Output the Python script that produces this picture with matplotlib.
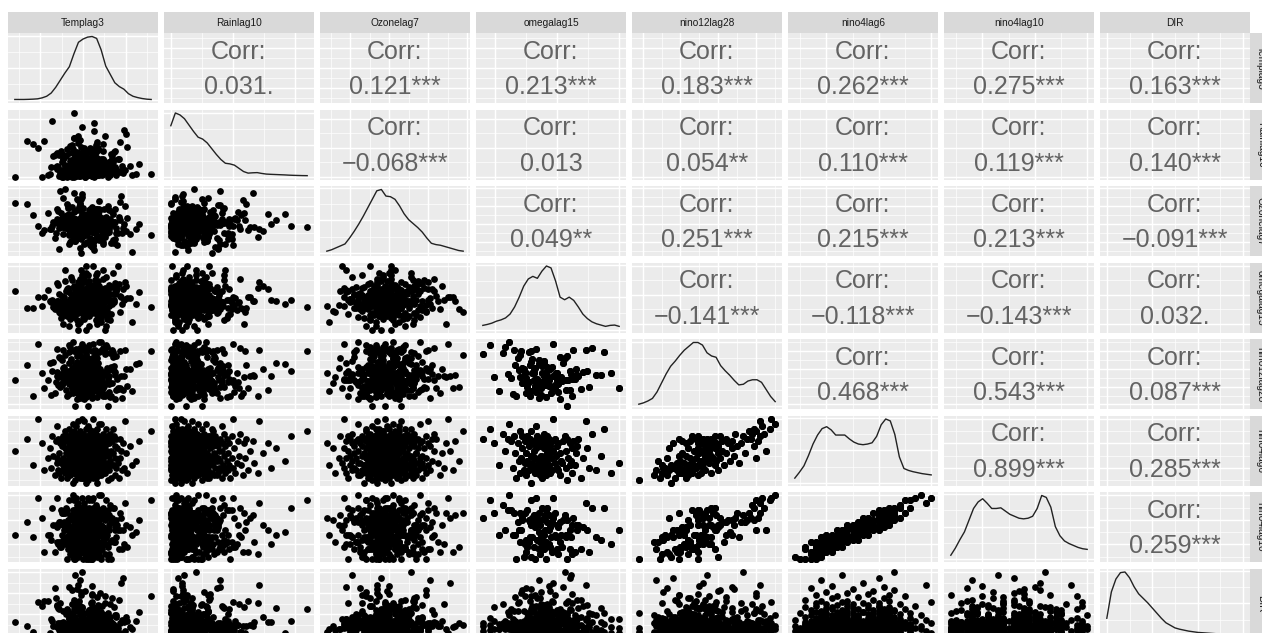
"""
ggpairs-style scatterplot matrix: lagged climate variables vs DIR
"""

import numpy as np
import matplotlib
matplotlib.use('Agg')
import matplotlib.pyplot as plt
from matplotlib.ticker import MaxNLocator

plt.rcParams['font.family'] = ['Liberation Sans', 'DejaVu Sans']

var_names = ['Templag3', 'Rainlag10', 'Ozonelag7', 'omegalag15',
             'nino12lag28', 'nino4lag6', 'nino4lag10', 'DIR']

# upper triangle, row by row
corr_values = [0.031, 0.121, 0.213, 0.183, 0.262, 0.275, 0.163,
               -0.068, 0.013, 0.054, 0.110, 0.119, 0.140,
               0.049, 0.251, 0.215, 0.213, -0.091,
               -0.141, -0.118, -0.143, 0.032,
               0.468, 0.543, 0.087,
               0.899, 0.285,
               0.259]
corr_stars = ['.', '***', '***', '***', '***', '***', '***',
              '***', '', '**', '***', '***', '***',
              '**', '***', '***', '***', '***',
              '***', '***', '***', '.',
              '***', '***', '***',
              '***', '***',
              '***']

# monthly-type values, one per period (each period covers 3 days)
days_per_period = 3
nino4lag6_period = [
    27.4, 27.5, 27.6, 27.6, 27.6, 27.7, 27.7, 27.7, 27.7, 27.8,
    27.8, 27.8, 27.8, 27.8, 27.8, 27.9, 27.9, 27.9, 27.9, 27.9,
    27.9, 27.9, 28.0, 28.0, 28.0, 28.0, 28.0, 28.0, 28.0, 28.1,
    28.1, 28.1, 28.1, 28.1, 28.1, 28.1, 28.2, 28.2, 28.2, 28.2,
    28.2, 28.2, 28.3, 28.3, 28.3, 28.3, 28.3, 28.3, 28.4, 28.4,
    28.4, 28.4, 28.4, 28.4, 28.5, 28.5, 28.5, 28.5, 28.5, 28.6,
    28.6, 28.6, 28.6, 28.6, 28.7, 28.7, 28.7, 28.7, 28.7, 28.8,
    28.8, 28.8, 28.8, 28.8, 28.9, 28.9, 28.9, 28.9, 28.9, 29.0,
    29.0, 29.0, 29.0, 29.0, 29.0, 29.0, 29.0, 29.1, 29.1, 29.1,
    29.1, 29.1, 29.1, 29.1, 29.1, 29.2, 29.2, 29.2, 29.2, 29.2,
    29.2, 29.2, 29.2, 29.3, 29.3, 29.3, 29.3, 29.3, 29.3, 29.4,
    29.4, 29.4, 29.5, 29.5, 29.6, 29.6, 29.7, 29.8, 29.9, 30.0]
nino4lag10_period = [
    27.5, 27.4, 27.9, 27.4, 27.8, 27.4, 27.7, 28.1, 27.6, 28.0,
    27.4, 27.9, 27.6, 28.1, 27.8, 27.6, 28.1, 27.8, 28.3, 27.7,
    28.0, 27.5, 28.3, 27.9, 28.2, 27.7, 28.0, 28.4, 27.8, 28.2,
    27.8, 28.3, 28.0, 28.4, 27.7, 28.1, 28.4, 28.0, 28.6, 28.1,
    28.3, 27.9, 28.6, 28.1, 28.3, 28.5, 27.9, 28.4, 28.3, 28.7,
    28.1, 28.6, 28.4, 28.8, 28.3, 28.6, 28.2, 28.8, 28.4, 28.8,
    28.2, 28.6, 28.9, 28.4, 28.8, 28.4, 29.1, 28.6, 28.9, 28.6,
    29.1, 28.8, 28.4, 29.0, 28.8, 29.3, 28.6, 29.0, 28.7, 29.3,
    29.0, 28.7, 29.2, 28.9, 29.4, 28.6, 29.1, 28.9, 29.4, 29.1,
    28.8, 29.3, 29.0, 29.2, 28.7, 29.4, 29.0, 29.2, 28.9, 29.3,
    29.1, 29.5, 28.8, 29.4, 29.1, 29.5, 29.2, 29.0, 29.3, 29.6,
    29.1, 29.5, 29.8, 29.3, 29.8, 29.5, 29.9, 30.0, 29.7, 29.9]
nino12lag28_period = [
    21.5, 19.8, 22.3, 20.9, 21.7, 22.9, 21.3, 20.6, 22.4, 23.6,
    21.9, 22.1, 21.0, 23.1, 22.6, 21.4, 22.5, 20.7, 23.3, 21.8,
    22.2, 24.0, 21.6, 22.8, 21.1, 22.0, 23.2, 21.2, 22.7, 22.4,
    23.8, 21.0, 23.0, 21.5, 22.9, 24.3, 22.2, 23.5, 21.8, 23.2,
    25.1, 22.6, 23.9, 20.8, 23.4, 24.6, 22.0, 23.1, 21.3, 23.7,
    22.5, 26.0, 22.8, 24.1, 23.6, 22.3, 23.3, 24.8, 21.9, 24.0,
    23.0, 22.1, 25.4, 24.4, 23.5, 22.7, 23.2, 26.5, 24.2, 23.8,
    21.4, 22.9, 24.7, 22.4, 23.6, 25.0, 23.3, 25.9, 24.0, 23.1,
    24.5, 22.3, 23.9, 25.2, 22.9, 21.6, 23.5, 24.2, 23.0, 26.1,
    22.5, 23.7, 24.7, 23.3, 22.1, 23.4, 25.5, 22.8, 24.4, 21.9,
    25.7, 23.6, 23.2, 22.6, 24.1, 23.8, 25.3, 22.9, 26.2, 25.8,
    24.9, 26.4, 26.0, 25.6, 26.7, 25.9, 26.3, 27.0, 26.2, 26.8]
omegalag15_period = [
    -0.021, 0.008, -0.012, -0.033, 0.019, -0.009, -0.025, 0.002, -0.014, 0.043,
    -0.018, -0.006, 0.012, -0.030, -0.011, 0.001, -0.023, -0.015, 0.031, -0.004,
    -0.010, -0.027, 0.007, -0.019, -0.013, 0.026, -0.008, -0.036, 0.000, -0.016,
    0.010, -0.022, -0.007, -0.047, 0.014, -0.012, -0.002, -0.026, 0.050, -0.011,
    -0.020, 0.004, -0.031, -0.009, 0.011, -0.015, -0.024, 0.003, -0.005, 0.021,
    -0.014, -0.029, 0.009, -0.018, -0.001, -0.010, 0.035, -0.021, -0.013, 0.015,
    -0.025, -0.007, 0.002, -0.034, -0.019, 0.007, -0.003, -0.042, -0.008, 0.024,
    -0.017, 0.012, -0.011, -0.028, 0.000, -0.015, 0.016, -0.023, -0.006, -0.051,
    -0.013, 0.001, -0.019, -0.032, -0.009, 0.010, -0.020, -0.004, -0.037, 0.013,
    -0.014, -0.026, 0.005, -0.010, -0.018, -0.040, 0.008, -0.007, -0.022, -0.002,
    -0.060, -0.012, 0.017, -0.024, -0.028, -0.008, 0.006, -0.016, -0.035, -0.044,
    -0.011, 0.028, -0.021, -0.030, -0.054, 0.038, -0.017, -0.039, 0.023, -0.003]

# daily values
templag3 = [
    25.3, 23.8, 26.7, 24.1, 27.9, 25.6, 22.4, 26.2, 24.9, 28.3, 25.0, 23.1, 26.5, 24.6, 29.2, 25.8, 27.1, 26.0, 21.7, 24.4,
    26.9, 24.3, 25.1, 28.7, 23.5, 26.4, 25.7, 22.9, 27.4, 24.8, 25.4, 26.1, 23.9, 30.2, 24.0, 26.6, 25.9, 27.6, 24.5, 22.2,
    24.7, 26.3, 23.3, 25.5, 27.2, 25.2, 28.1, 24.2, 26.8, 22.6, 25.9, 29.6, 24.6, 26.0, 23.6, 27.7, 25.1, 20.4, 26.5, 24.9,
    25.6, 22.1, 26.2, 24.4, 27.0, 25.3, 23.0, 28.9, 26.7, 24.1, 25.8, 26.9, 21.3, 24.8, 27.5, 25.0, 23.7, 26.4, 29.8, 24.3,
    26.1, 25.4, 23.4, 27.8, 24.0, 26.6, 25.7, 22.7, 28.4, 24.5, 25.2, 26.3, 23.2, 27.3, 24.9, 19.1, 26.0, 25.5, 24.2, 30.7,
    24.6, 27.1, 25.9, 23.9, 26.8, 24.3, 28.6, 25.1, 22.5, 26.5, 25.6, 24.7, 27.6, 23.5, 26.2, 29.1, 25.3, 21.9, 24.0, 26.9,
    25.0, 23.6, 26.4, 24.8, 27.9, 25.8, 22.8, 26.1, 24.4, 28.2, 25.4, 26.7, 23.1, 27.4, 24.1, 25.7, 31.2, 26.3, 24.9, 22.3,
    26.6, 24.2, 25.2, 27.2, 23.8, 26.0, 25.5, 28.8, 24.7, 22.0, 25.9, 26.8, 23.4, 27.0, 24.5, 29.4, 25.1, 26.4, 20.9, 24.6,
    25.7, 22.6, 26.3, 24.0, 27.7, 25.3, 23.3, 28.0, 26.5, 24.9, 25.6, 26.2, 21.5, 24.3, 27.3, 25.0, 23.7, 26.9, 30.1, 24.8,
    26.0, 25.8, 23.0, 27.5, 24.4, 26.7, 25.4, 22.2, 28.5, 24.1, 25.2, 26.6, 23.9, 27.1, 24.6, 17.0, 26.1, 25.9, 24.7, 29.5,
    24.5, 27.8, 25.1, 23.5, 26.4, 24.2, 28.3, 25.7, 22.9, 26.8, 25.3, 24.8, 27.2, 23.2, 26.0, 29.0, 25.5, 21.1, 24.9, 26.3,
    25.9, 23.7, 26.5, 24.3, 27.0, 25.0, 22.5, 26.2, 24.0, 28.7, 25.6, 26.9, 23.3, 27.6, 24.7, 25.2, 30.5, 26.6, 24.4, 22.7,
    26.2, 24.6, 25.4, 27.4, 23.6, 26.1, 25.8, 28.1, 24.5, 22.3, 25.1, 26.7, 23.8, 27.9, 24.1, 29.7, 25.5, 26.3, 20.2, 24.8,
    25.2, 22.8, 26.0, 24.9, 27.1, 25.7, 23.1, 28.4, 26.4, 24.2, 25.9, 26.5, 21.8, 24.6, 27.5, 25.3, 23.4, 26.8, 31.6, 24.0,
    26.3, 25.6, 23.9, 27.3, 24.7, 26.9, 25.0, 22.4, 28.9, 24.3, 25.4, 26.1, 23.5, 27.0, 24.5, 18.4, 26.6, 25.8, 24.8, 29.3,
    24.4, 27.6, 25.3, 23.0, 26.2, 24.8, 28.0, 25.9, 22.1, 26.7, 25.1, 24.1, 27.8, 23.7, 26.4, 28.6, 25.7, 21.4, 24.9, 26.0,
    25.5, 23.2, 26.8, 24.5, 27.2, 25.2, 22.6, 26.5, 24.3, 28.2, 25.8, 26.3, 23.6, 27.4, 24.6, 25.0, 33.0, 26.1, 24.0, 22.9,
    26.4, 24.7, 25.7, 27.7, 23.3, 26.6, 25.3, 28.5, 24.2, 22.0, 25.6, 26.9, 23.8, 27.1, 24.4, 29.9, 25.1, 26.2, 19.7, 24.9]
rainlag10 = [
    3, 17, 8, 25, 0, 12, 41, 6, 29, 19, 2, 48, 14, 9, 31, 5, 22, 15, 37, 58,
    11, 4, 27, 16, 1, 35, 7, 20, 44, 10, 24, 13, 3, 52, 18, 30, 6, 70, 2, 38,
    9, 21, 5, 33, 14, 0, 26, 8, 46, 12, 2, 19, 40, 7, 28, 15, 4, 62, 23, 10,
    6, 13, 1, 30, 18, 8, 36, 3, 23, 11, 50, 5, 16, 27, 9, 43, 0, 20, 81, 25,
    2, 24, 10, 15, 39, 4, 19, 7, 32, 12, 1, 47, 17, 6, 22, 57, 9, 14, 29, 3,
    14, 7, 28, 0, 20, 11, 42, 5, 25, 16, 3, 34, 8, 53, 13, 31, 1, 18, 67, 10,
    8, 19, 4, 26, 13, 2, 37, 10, 22, 6, 45, 15, 0, 30, 11, 24, 5, 92, 17, 40,
    5, 12, 23, 9, 16, 1, 33, 7, 28, 14, 3, 49, 18, 10, 21, 60, 6, 27, 2, 38,
    12, 0, 18, 31, 6, 24, 9, 15, 43, 4, 20, 11, 36, 2, 27, 8, 55, 13, 74, 3,
    7, 22, 3, 14, 35, 10, 17, 1, 29, 5, 46, 12, 26, 8, 19, 0, 41, 16, 64, 9,
    1, 15, 11, 27, 4, 20, 39, 8, 13, 24, 6, 51, 2, 18, 32, 10, 23, 5, 85, 14,
    10, 3, 25, 17, 7, 34, 0, 21, 12, 44, 5, 28, 16, 9, 38, 2, 19, 59, 6, 30,
    4, 18, 9, 23, 14, 1, 42, 11, 26, 7, 20, 3, 47, 13, 29, 6, 16, 78, 0, 33,
    13, 6, 20, 2, 31, 10, 15, 37, 5, 24, 8, 54, 17, 1, 27, 12, 40, 9, 22, 66,
    0, 16, 7, 29, 11, 3, 22, 45, 14, 9, 35, 4, 19, 25, 10, 61, 2, 18, 30, 8,
    9, 21, 2, 14, 40, 6, 26, 12, 17, 5, 49, 1, 23, 10, 32, 15, 7, 97, 20, 36,
    5, 11, 24, 8, 18, 0, 30, 13, 43, 3, 21, 16, 7, 56, 27, 10, 4, 34, 110, 19,
    15, 2, 19, 12, 6, 33, 9, 25, 1, 41, 14, 22, 4, 28, 71, 11, 17, 8, 50, 3]
ozonelag7 = [
    34, 41, 27, 46, 38, 31, 52, 36, 44, 19, 33, 40, 57, 29, 48, 35, 42, 54, 25, 66,
    39, 30, 45, 24, 37, 50, 33, 43, 18, 41, 35, 59, 28, 47, 32, 38, 53, 26, 44, 12,
    42, 36, 29, 48, 31, 40, 55, 34, 23, 45, 38, 30, 61, 43, 21, 37, 51, 33, 46, 73,
    37, 44, 32, 26, 41, 35, 49, 30, 56, 39, 17, 46, 34, 28, 42, 58, 36, 52, 40, 68,
    31, 39, 47, 35, 22, 43, 38, 29, 53, 41, 33, 45, 60, 27, 36, 50, 40, 20, 34, 9,
    45, 33, 38, 27, 50, 36, 42, 31, 47, 24, 39, 55, 35, 44, 16, 30, 41, 57, 37, 65,
    36, 42, 30, 48, 34, 25, 40, 53, 38, 45, 29, 33, 62, 41, 21, 46, 35, 51, 39, 76,
    40, 32, 46, 37, 28, 43, 35, 56, 30, 41, 49, 23, 38, 34, 59, 44, 18, 36, 52, 14,
    33, 47, 39, 29, 44, 36, 51, 31, 41, 26, 37, 57, 42, 34, 20, 48, 38, 54, 32, 67,
    38, 35, 43, 27, 40, 33, 49, 36, 22, 45, 30, 54, 39, 46, 31, 63, 41, 19, 37, 71,
    41, 30, 37, 47, 34, 24, 42, 55, 36, 39, 28, 45, 33, 58, 40, 17, 50, 35, 44, 11,
    35, 44, 32, 40, 26, 48, 37, 31, 53, 42, 38, 22, 46, 34, 61, 39, 29, 52, 43, 69,
    43, 37, 29, 45, 33, 40, 56, 35, 25, 42, 31, 48, 38, 60, 21, 36, 44, 51, 30, 8,
    32, 46, 38, 28, 42, 35, 50, 39, 23, 44, 36, 53, 30, 41, 57, 34, 18, 47, 40, 74,
    39, 34, 44, 30, 37, 49, 27, 41, 36, 55, 32, 43, 20, 38, 46, 62, 35, 52, 26, 64,
    36, 41, 31, 47, 39, 24, 43, 34, 54, 37, 29, 45, 40, 59, 33, 19, 48, 38, 51, 15,
    44, 35, 40, 26, 47, 32, 38, 53, 30, 42, 36, 21, 49, 34, 63, 41, 28, 45, 37, 78,
    37, 43, 33, 48, 28, 40, 35, 51, 31, 45, 39, 56, 24, 42, 34, 60, 46, 17, 38, 70]
dir_daily = [
    4, 9, 15, 3, 21, 7, 11, 2, 27, 13, 8, 5, 18, 10, 34, 6, 14, 4, 45, 9,
    7, 3, 12, 19, 5, 10, 24, 8, 16, 2, 11, 38, 6, 14, 4, 22, 9, 31, 13, 5,
    10, 5, 17, 8, 28, 3, 13, 6, 20, 11, 4, 15, 52, 9, 7, 19, 2, 33, 12, 8,
    3, 12, 6, 23, 9, 14, 4, 18, 7, 26, 10, 1, 16, 41, 5, 11, 21, 8, 13, 30,
    8, 4, 16, 11, 2, 20, 6, 13, 35, 9, 5, 25, 12, 7, 17, 3, 47, 10, 15, 6,
    11, 6, 14, 3, 19, 9, 27, 5, 12, 8, 22, 4, 37, 10, 16, 7, 2, 29, 13, 9,
    5, 13, 8, 20, 4, 15, 10, 32, 6, 18, 3, 11, 24, 9, 57, 7, 14, 2, 21, 12,
    9, 3, 11, 17, 6, 23, 12, 4, 28, 8, 14, 5, 19, 40, 10, 2, 16, 7, 33, 6,
    6, 10, 4, 15, 12, 2, 21, 8, 26, 13, 5, 17, 9, 44, 3, 11, 30, 7, 18, 14,
    12, 7, 3, 19, 9, 16, 5, 25, 11, 4, 14, 36, 8, 22, 6, 13, 0, 31, 10, 50,
    4, 14, 9, 6, 22, 11, 3, 17, 8, 29, 12, 5, 20, 10, 39, 7, 15, 2, 26, 9,
    10, 5, 13, 24, 7, 18, 3, 11, 34, 9, 16, 6, 21, 4, 12, 42, 8, 27, 14, 6,
    7, 12, 2, 16, 10, 20, 5, 14, 9, 31, 4, 23, 11, 6, 18, 54, 8, 13, 28, 3,
    13, 8, 4, 18, 11, 6, 25, 9, 15, 3, 21, 10, 35, 7, 12, 5, 46, 16, 22, 9,
    5, 11, 16, 8, 3, 22, 12, 7, 19, 14, 2, 27, 10, 6, 33, 9, 15, 4, 38, 12,
    9, 4, 12, 20, 6, 15, 10, 3, 26, 13, 8, 17, 5, 43, 11, 7, 24, 14, 60, 6,
    11, 6, 18, 9, 14, 4, 23, 8, 12, 30, 5, 16, 10, 3, 20, 13, 37, 7, 25, 10,
    8, 13, 5, 17, 10, 3, 21, 11, 7, 28, 14, 6, 19, 9, 48, 4, 15, 12, 32, 2]

dens_templag3 = [.01, .01, .01, .012, .015, .02, .035, .06, .11, .2, .31, .42, .52, .72, .9, .95,
                 .98, .99, .96, .78, .53, .4, .27, .21, .17, .1, .06, .04, .025, .015, .01]
dens_rainlag10 = [.8, 1.0, .97, .91, .81, .71, .62, .59, .53, .44, .35, .27, .21, .2, .18, .13,
                  .08, .055, .06, .063, .05, .04, .036, .033, .03, .027, .023, .02, .018, .016, .015]
dens_ozonelag7 = [.03, .05, .08, .11, .14, .23, .33, .44, .56, .69, .82, .95, .97, .87, .86, .82,
                  .72, .6, .51, .45, .39, .32, .23, .15, .13, .12, .1, .08, .06, .04, .03]
dens_omegalag15 = [.065, .08, .1, .13, .15, .18, .24, .35, .5, .67, .78, .82, .79, .9, .98, .95,
                   .75, .5, .46, .5, .45, .35, .24, .17, .12, .09, .07, .05, .065, .07, .05]
dens_nino12lag28 = [.03, .05, .08, .12, .22, .36, .5, .62, .7, .79, .87, .93, .99, .99, .95, .83,
                    .78, .76, .63, .55, .48, .4, .33, .34, .39, .41, .41, .37, .26, .15, .07]
dens_nino4lag6 = [.07, .16, .26, .42, .6, .74, .84, .87, .82, .74, .74, .74, .68, .63, .6, .59,
                  .6, .62, .72, .9, .99, .96, .75, .4, .22, .19, .17, .155, .14, .13, .12]
dens_nino4lag10 = [.06, .17, .3, .42, .6, .78, .88, .93, .86, .78, .78, .79, .74, .69, .66, .63,
                   .62, .63, .66, .78, .98, .95, .8, .5, .36, .28, .24, .21, .18, .16, .15]
dens_dir = [.27, .68, .88, .98, .99, .9, .76, .65, .58, .51, .43, .35, .27, .2, .16, .12,
            .1, .085, .07, .06, .05, .045, .04, .035, .03, .03, .025, .02, .02, .015, .01]

data = {
    'Templag3': np.array(templag3),
    'Rainlag10': np.array(rainlag10, dtype=float),
    'Ozonelag7': np.array(ozonelag7, dtype=float),
    'omegalag15': np.repeat(omegalag15_period, days_per_period),
    'nino12lag28': np.repeat(nino12lag28_period, days_per_period),
    'nino4lag6': np.repeat(nino4lag6_period, days_per_period),
    'nino4lag10': np.repeat(nino4lag10_period, days_per_period),
    'DIR': np.array(dir_daily, dtype=float),
}
densities = {
    'Templag3': dens_templag3, 'Rainlag10': dens_rainlag10, 'Ozonelag7': dens_ozonelag7,
    'omegalag15': dens_omegalag15, 'nino12lag28': dens_nino12lag28,
    'nino4lag6': dens_nino4lag6, 'nino4lag10': dens_nino4lag10, 'DIR': dens_dir,
}

W, H = 1262, 633
fig = plt.figure(figsize=(W / 100, H / 100), dpi=100)
fig.patch.set_facecolor('white')

PANEL_W, PANEL_H = 150, 70
COL0, COL_STEP = 8, 156
ROW0, ROW_STEP = 33.3, 76.5
STRIP = 21.3
TEXT_GREY = '#636363'


def px_axes(x, y, w, h):
    return fig.add_axes([x / W, 1 - (y + h) / H, w / W, h / H])


def limits(v):
    lo, hi = float(np.min(v)), float(np.max(v))
    pad = 0.05 * (hi - lo)
    return lo - pad, hi + pad


def breaks(lo, hi):
    ticks = MaxNLocator(nbins=4, steps=[1, 2, 2.5, 5, 10]).tick_values(lo, hi)
    major = [t for t in ticks if lo <= t <= hi]
    step = ticks[1] - ticks[0]
    minor = [t + step / 2 for t in ticks if lo <= t + step / 2 <= hi]
    return major, minor


def style_panel(ax, xlim, ylim):
    ax.set_facecolor('#EBEBEB')
    ax.set_xlim(xlim)
    ax.set_ylim(ylim)
    ax.set_xticks([])
    ax.set_yticks([])
    for s in ax.spines.values():
        s.set_visible(False)
    mj, mn = breaks(*xlim)
    for v in mn:
        ax.axvline(v, color='white', lw=0.5, zorder=0)
    for v in mj:
        ax.axvline(v, color='white', lw=1.05, zorder=0)
    mj, mn = breaks(*ylim)
    for v in mn:
        ax.axhline(v, color='white', lw=0.5, zorder=0)
    for v in mj:
        ax.axhline(v, color='white', lw=1.05, zorder=0)


def strip_axes(x, y, w, h):
    sax = px_axes(x, y, w, h)
    sax.set_facecolor('#D9D9D9')
    sax.set_xticks([])
    sax.set_yticks([])
    for s in sax.spines.values():
        s.set_visible(False)
    return sax


def fmt_corr(v, stars):
    return f'{v:.3f}'.replace('-', '\u2212') + stars


n = len(var_names)
k = 0
for i, row_var in enumerate(var_names):
    for j, col_var in enumerate(var_names):
        ax = px_axes(COL0 + COL_STEP * j, ROW0 + ROW_STEP * i, PANEL_W, PANEL_H)
        xlim = limits(data[col_var])
        if i == j:
            d = densities[col_var]
            m = max(d)
            style_panel(ax, xlim, (-0.05 * m, 1.05 * m))
            xs = np.linspace(data[col_var].min(), data[col_var].max(), len(d))
            ax.plot(xs, d, color='#222222', lw=1.0, zorder=2)
        elif i > j:
            style_panel(ax, xlim, limits(data[row_var]))
            ax.scatter(data[col_var], data[row_var], s=24, c='black',
                       linewidths=0, zorder=2)
        else:
            style_panel(ax, xlim, limits(data[row_var]))
            ax.text(0.5, 0.633, 'Corr:', transform=ax.transAxes, ha='center',
                    va='baseline', fontsize=18, color=TEXT_GREY)
            ax.text(0.5, 0.129, fmt_corr(corr_values[k], corr_stars[k]),
                    transform=ax.transAxes, ha='center', va='baseline',
                    fontsize=18, color=TEXT_GREY)
            k += 1

# facet strips: top for columns, right for rows (cut by the figure edge)
for j, name in enumerate(var_names):
    sax = strip_axes(COL0 + COL_STEP * j, ROW0 - STRIP, PANEL_W, STRIP)
    sax.text(0.5, 0.5, name, transform=sax.transAxes, ha='center', va='center',
             fontsize=7.3, color='#1A1A1A')

for i, name in enumerate(var_names):
    sax = strip_axes(COL0 + COL_STEP * (n - 1) + PANEL_W, ROW0 + ROW_STEP * i, STRIP, PANEL_H)
    sax.text(0.5, 0.5, name, transform=sax.transAxes, ha='center', va='center',
             rotation=-90, fontsize=7.3, color='#1A1A1A')

fig.savefig('out.png', dpi=100, facecolor='white')
